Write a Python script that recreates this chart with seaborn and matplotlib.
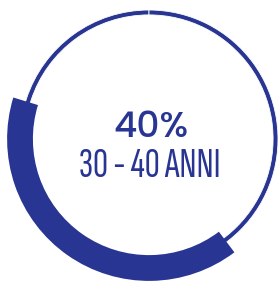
import matplotlib
matplotlib.use("Agg")
import matplotlib.pyplot as plt
import seaborn as sns

# data
percent = [40]
label_pct = ["40%"]
label_age = ["30 - 40 ANNI"]
ring_color = "#283592"

sns.set_theme(style="white")
plt.rcParams["font.family"] = ["DejaVu Sans"]

fig = plt.figure(figsize=(2.80, 2.83), dpi=100)
ax = fig.add_axes([0, 0, 1, 1])
ax.axis("off")

p = percent[0]
# thin full ring (wedge edge gives the small tick at the top)
ax.pie([p, 100 - p], radius=1.0, startangle=90, counterclock=True,
       colors=[ring_color, ring_color],
       wedgeprops=dict(width=0.038, edgecolor="white", linewidth=0.6))
# thick highlighted arc
ax.pie([p, 100 - p], radius=1.10, startangle=163, counterclock=True,
       colors=[ring_color, "none"],
       wedgeprops=dict(width=0.20, edgecolor="none", linewidth=0))
ax.set_xlim(-149 / 129, 131 / 129)
ax.set_ylim(-144 / 129, 139 / 129)
ax.set_aspect("auto")

ax.text(0.015, 0.085, label_pct[0], ha="center", va="center",
        fontsize=26, fontweight=500,
        family=["Poppins", "Open Sans", "DejaVu Sans"],
        color=ring_color)
ax.text(0.005, -0.215, label_age[0], ha="center", va="center",
        fontsize=30,
        family=["Sofia Sans Extra Condensed", "DejaVu Sans"],
        color=ring_color)

fig.savefig("out.png", dpi=100)
